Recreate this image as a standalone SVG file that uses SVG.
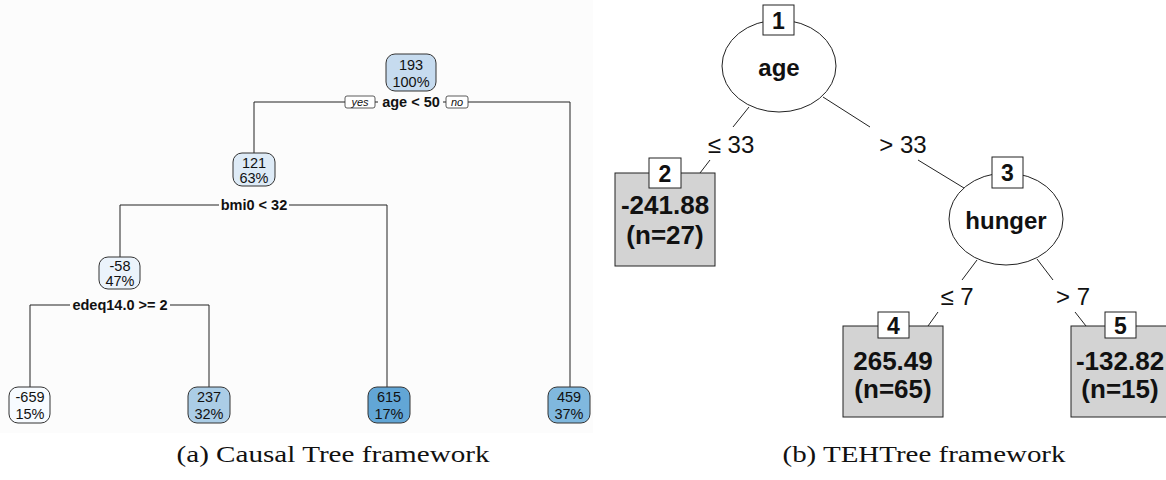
<svg xmlns="http://www.w3.org/2000/svg" width="1166" height="480" viewBox="0 0 1166 480">
<style>
.edge{fill:none;stroke:#222;stroke-width:1}
.nd{stroke:#333;stroke-width:1}
.nt{font-family:"Liberation Sans",Arial,sans-serif;font-size:14.5px;fill:#111;text-anchor:middle}
.lb{font-family:"Liberation Sans",Arial,sans-serif;font-size:14.5px;font-weight:bold;fill:#111;text-anchor:middle}
.yn{font-family:"Liberation Sans",Arial,sans-serif;font-size:11px;font-style:italic;fill:#111;text-anchor:middle}
.tag{fill:#fff;stroke:#333;stroke-width:0.8}
.ell{fill:#fff;stroke:#222;stroke-width:1}
.leaf{fill:#d3d3d3;stroke:#222;stroke-width:1}
.num{fill:#fff;stroke:#222;stroke-width:1}
.bt{font-family:"Liberation Sans",Arial,sans-serif;font-weight:bold;fill:#111;text-anchor:middle}
.et{font-family:"Liberation Sans",Arial,sans-serif;font-size:24px;fill:#111;text-anchor:middle}
.cap{font-family:"Liberation Serif","Times New Roman",serif;font-size:24px;fill:#111;text-anchor:middle}
.c2{stroke:#222;stroke-width:1;fill:none}
</style>
<rect width="1166" height="480" fill="#fff"/>
<rect x="0" y="0" width="593" height="433" fill="#fcfcfc"/>
<g id="connectors-a">
<path class="edge" d="M254,153 V102 H570 V387"/>
<path class="edge" d="M120,257 V205 H387 V387"/>
<path class="edge" d="M30,387 V305 H209 V387"/>
</g>
<g id="labels-a">
<rect x="345" y="96" width="30" height="12" rx="2" class="tag"/>
<text x="360" y="106" class="yn">yes</text>
<rect x="378" y="94" width="65" height="15" fill="#fcfcfc"/>
<text x="411" y="107" class="lb">age &lt; 50</text>
<rect x="446" y="96" width="22" height="12" rx="2" class="tag"/>
<text x="457" y="106" class="yn">no</text>
<rect x="219" y="197" width="70" height="15" fill="#fcfcfc"/>
<text x="254" y="210" class="lb">bmi0 &lt; 32</text>
<rect x="70" y="297" width="100" height="15" fill="#fcfcfc"/>
<text x="120" y="310" class="lb">edeq14.0 &gt;= 2</text>
</g>
<g id="n193"><rect x="386" y="54" width="50" height="37" rx="9" class="nd" fill="#c6dbef"/><text x="411" y="70" class="nt">193</text><text x="411" y="87" class="nt">100%</text></g>
<g id="n121"><rect x="233" y="153" width="42" height="33" rx="9" class="nd" fill="#deebf7"/><text x="254" y="168" class="nt">121</text><text x="254" y="183" class="nt">63%</text></g>
<g id="n-58"><rect x="99" y="257" width="41" height="32" rx="9" class="nd" fill="#ebf3fb"/><text x="120" y="271" class="nt">-58</text><text x="120" y="286" class="nt">47%</text></g>
<g id="n-659"><rect x="9" y="387" width="41" height="36" rx="9" class="nd" fill="#f7fbff"/><text x="30" y="402" class="nt">-659</text><text x="30" y="419" class="nt">15%</text></g>
<g id="n237"><rect x="188" y="387" width="42" height="36" rx="9" class="nd" fill="#abcde6"/><text x="209" y="402" class="nt">237</text><text x="209" y="419" class="nt">32%</text></g>
<g id="n615"><rect x="368" y="387" width="42" height="36" rx="9" class="nd" fill="#62a6d6"/><text x="389" y="402" class="nt">615</text><text x="389" y="419" class="nt">17%</text></g>
<g id="n459"><rect x="548" y="387" width="42" height="36" rx="9" class="nd" fill="#80b8de"/><text x="569" y="402" class="nt">459</text><text x="569" y="419" class="nt">37%</text></g>

<g id="connectors-b">
<line class="c2" x1="749" y1="107" x2="733" y2="127"/>
<line class="c2" x1="710" y1="160" x2="700" y2="173"/>
<text x="731" y="153" class="et">≤ 33</text>
<line class="c2" x1="823" y1="97" x2="870" y2="127"/>
<line class="c2" x1="918" y1="160" x2="964" y2="188"/>
<text x="903" y="153" class="et">&gt; 33</text>
<line class="c2" x1="977" y1="260" x2="962" y2="280"/>
<line class="c2" x1="938" y1="312" x2="928" y2="326"/>
<text x="957" y="305" class="et">≤ 7</text>
<line class="c2" x1="1037" y1="259" x2="1053" y2="280"/>
<line class="c2" x1="1075" y1="312" x2="1086" y2="326"/>
<text x="1073" y="305" class="et">&gt; 7</text>
</g>
<g id="t1"><ellipse cx="779" cy="66" rx="57" ry="46" class="ell"/><rect x="763" y="5" width="31" height="30" class="num"/><text x="778.5" y="29" class="bt" font-size="23">1</text><text x="779" y="76" class="bt" font-size="24">age</text></g>
<g id="t3"><ellipse cx="1006" cy="219" rx="57" ry="46" class="ell"/><rect x="992" y="157" width="31" height="31" class="num"/><text x="1007.5" y="181" class="bt" font-size="23">3</text><text x="1006" y="229" class="bt" font-size="24">hunger</text></g>
<g id="t2"><rect x="615" y="173" width="100" height="93" class="leaf"/><rect x="649" y="158" width="32" height="30" class="num"/><text x="665" y="182" class="bt" font-size="23">2</text><text x="665" y="214" class="bt" font-size="26">-241.88</text><text x="665" y="244" class="bt" font-size="26">(n=27)</text></g>
<g id="t4"><rect x="843" y="326" width="100" height="91" class="leaf"/><rect x="878" y="312" width="31" height="26" class="num"/><text x="893.5" y="334" class="bt" font-size="23">4</text><text x="893" y="370" class="bt" font-size="26">265.49</text><text x="893" y="398" class="bt" font-size="26">(n=65)</text></g>
<g id="t5"><rect x="1071" y="326" width="100" height="91" class="leaf"/><rect x="1105" y="312" width="31" height="26" class="num"/><text x="1120.5" y="334" class="bt" font-size="23">5</text><text x="1120" y="370" class="bt" font-size="26">-132.82</text><text x="1120" y="398" class="bt" font-size="26">(n=15)</text></g>

<text x="333" y="462" class="cap" textLength="313" lengthAdjust="spacingAndGlyphs">(a) Causal Tree framework</text>
<text x="924" y="462" class="cap" textLength="283" lengthAdjust="spacingAndGlyphs">(b) TEHTree framework</text>
</svg>
